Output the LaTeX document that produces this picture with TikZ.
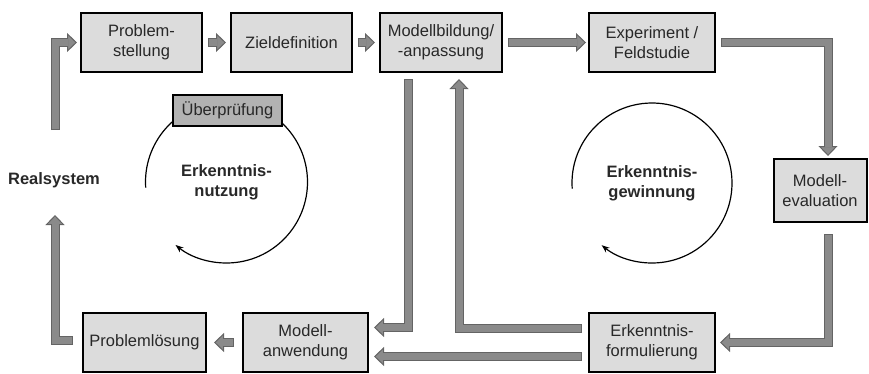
\documentclass[tikz,border=0pt]{standalone}
\usepackage{fontspec}
\setmainfont{Liberation Sans}
\definecolor{boxgray}{RGB}{220,220,220}
\definecolor{checkgray}{RGB}{178,178,178}
\definecolor{flowgray}{RGB}{138,138,138}
\definecolor{flowdark}{RGB}{100,100,100}
\definecolor{textgray}{RGB}{40,40,40}
\usetikzlibrary{arrows.meta}

\begin{document}
\begin{tikzpicture}[x=1pt, y=-1pt,
  font=\fontsize{16.5}{20}\selectfont, text=textgray,
  stage/.style={draw=black, line width=2pt, fill=boxgray, minimum height=59pt, align=center, inner sep=0pt},
  flow/.style 2 args={draw=flowgray, line width=7pt, shorten <=#1+1pt, shorten >=#2+9pt,
    preaction={draw=flowdark, line width=9pt, shorten <=#1, shorten >=#2,
      -{Triangle[length=10pt, width=19pt, line width=1pt, fill=flowgray]}}},
  cycle/.style={draw=black, line width=1.2pt, -{Stealth[length=8pt, width=6pt]}}]
  \useasboundingbox (0,0) rectangle (869,373);
  \clip (0,0) rectangle (869,373);

  % cycles
  \node[font=\fontsize{16.5}{20}\selectfont\bfseries, align=center] (nutz) at (226.5,182) {Erkenntnis-\\nutzung};
  \node[font=\fontsize{16.5}{20}\selectfont\bfseries, align=center] (gewi) at (652,183) {Erkenntnis-\\gewinnung};
  \draw[cycle] (nutz.center) ++(176:81) arc[start angle=176, end angle=489, radius=81];
  \draw[cycle] (gewi.center) ++(176:80) arc[start angle=176, end angle=489, radius=80];
  \node[draw=black, line width=2pt, fill=checkgray, minimum width=109pt, minimum height=31pt, inner sep=0pt] (pruef) at (227.5,110.5) {Überprüfung};

  % stages
  \node[stage, minimum width=121pt] (prob) at (141.5,42.5) {Problem-\\stellung};
  \node[stage, minimum width=121pt] (ziel) at (291.5,42.5) {Zieldefinition};
  \node[stage, minimum width=122pt] (bild) at (441,42.5) {Modellbildung/\\-anpassung};
  \node[stage, minimum width=126pt] (expe) at (652,42.5) {Experiment /\\Feldstudie};
  \node[stage, minimum width=93pt, minimum height=63pt] (eval) at (820,190.5) {Modell-\\evaluation};
  \node[stage, minimum width=126pt] (form) at (652,342.5) {Erkenntnis-\\formulierung};
  \node[stage, minimum width=125pt] (anwe) at (305.5,342.5) {Modell-\\anwendung};
  \node[stage, minimum width=123pt] (loes) at (144.5,342.5) {Problemlösung};

  \node[font=\fontsize{16.5}{20}\selectfont\bfseries] (real) at (54,180) {Realsystem};
  \coordinate (realtop) at (55,130);
  \coordinate (realbot) at (55,215);

  % flows
  \draw[flow={0pt}{3pt}] (realtop) |- (prob.west);
  \draw[flow={5pt}{4pt}] (prob.east) -- (ziel.west);
  \draw[flow={5pt}{4pt}] (ziel.east) -- (bild.west);
  \draw[flow={5pt}{2pt}] (bild.east) -- (expe.west);
  \draw[flow={5pt}{2pt}] (expe.east) -| ([xshift=8pt]eval.north);
  \draw[flow={11pt}{4pt}] ([xshift=8pt]eval.south) |- (form.east);
  \draw[flow={6pt}{6pt}] ([yshift=14pt]form.west) -| ([xshift=18pt]bild.south);
  \draw[flow={6pt}{5pt}] ([yshift=-14pt]form.west) -- ([yshift=-14pt]anwe.east);
  \draw[flow={6pt}{5pt}] ([xshift=-33pt]bild.south) |- ([yshift=15pt]anwe.east);
  \draw[flow={8pt}{7pt}] (anwe.west) -- (loes.east);
  \draw[flow={9pt}{0pt}] ([yshift=2pt]loes.west) -| (realbot);
\end{tikzpicture}
\end{document}
